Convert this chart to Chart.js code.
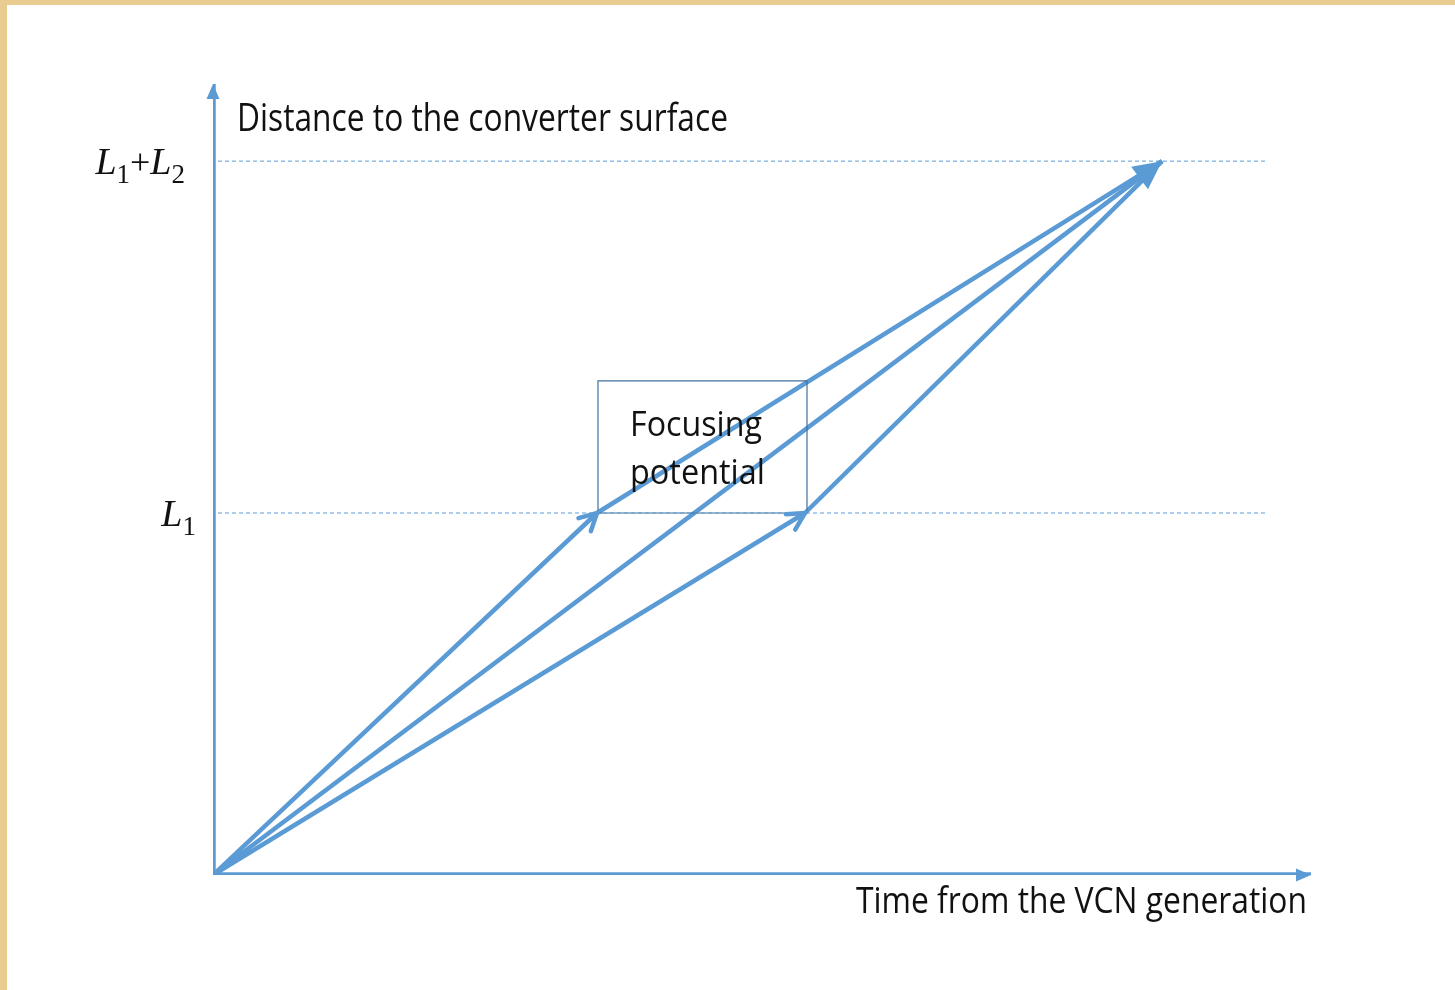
<!DOCTYPE html>
<html lang="en">
<head>
<meta charset="UTF-8">
<title>Focusing potential</title>
<style>
  html, body { margin:0; padding:0; }
  body { background:#e9cd90; width:1455px; height:990px; overflow:hidden; position:relative; }
  .sheet { position:absolute; left:7px; top:5px; right:0; bottom:0; background:#fff; }
  .wrap { position:absolute; left:0; top:0; width:1455px; height:990px; }
</style>
</head>
<body>
<div class="sheet"></div>
<div class="wrap"><canvas id="chart" width="1455" height="990"></canvas></div>

<script src="https://cdn.jsdelivr.net/npm/chart.js"></script>
<script>
// distances (L1 = 1 unit)
const yTickValues = [1.0, 1.972];
const yTickLabels = [["L", "1"], ["L", "1", "+L", "2"]];
// times
const entryTimes = [3.84, 5.92];      // arrival at L1 for early / late neutrons
const arrivalTime = 9.49;             // common arrival at L1+L2
const axisEnd = { x: 10.98, y: 2.185 };
const guideFrom = 0.05, guideTo = 10.55;
// focusing potential box
const boxX = [3.85, 5.94];
const boxY = [1.0, 1.365];

const blue = '#5b9bd5';
const L1 = yTickValues[0], L12 = yTickValues[1];

const seg = (a, b) => [{x:a[0], y:a[1]}, {x:b[0], y:b[1]}];

const datasets = [
  // axes
  { data: seg([0,0],[axisEnd.x,0]), borderColor: blue, borderWidth: 5.5, arrow: 'fill', head: [15, 6.5] },
  { data: seg([0,0],[0,axisEnd.y]), borderColor: blue, borderWidth: 5.5, arrow: 'fill', head: [15, 6.5] },
  // guides
  { data: seg([guideFrom,L1],[guideTo,L1]), borderColor: blue, borderWidth: 1, borderDash: [4,3] },
  { data: seg([guideFrom,L12],[guideTo,L12]), borderColor: blue, borderWidth: 1, borderDash: [4,3] },
  // box
  { data: [{x:boxX[0],y:boxY[0]},{x:boxX[1],y:boxY[0]},{x:boxX[1],y:boxY[1]},{x:boxX[0],y:boxY[1]},{x:boxX[0],y:boxY[0]}],
    borderColor: '#41719c', borderWidth: 1.2 },
  // early path
  { data: seg([0,0],[entryTimes[0],L1]), borderColor: blue, borderWidth: 4.5, arrow: 'open', head: [17, 9] },
  { data: seg([entryTimes[0],L1],[arrivalTime,L12]), borderColor: blue, borderWidth: 4.5 },
  // direct path
  { data: seg([0,0],[arrivalTime,L12]), borderColor: blue, borderWidth: 4.5, arrow: 'fill', head: [28, 14] },
  // late path
  { data: seg([0,0],[entryTimes[1],L1]), borderColor: blue, borderWidth: 4.5, arrow: 'open', head: [17, 9] },
  { data: seg([entryTimes[1],L1],[arrivalTime,L12]), borderColor: blue, borderWidth: 4.5 }
].map(d => Object.assign({ showLine: true, pointRadius: 0, fill: false, tension: 0, borderCapStyle: 'butt' }, d));

const texts = [
  { t: 'Distance to the converter surface', x: 0.24, y: 2.055, w: 491, size: 39 },
  { t: 'Time from the VCN generation', x: 6.43, y: -0.105, w: 451, size: 37 },
  { t: 'Focusing', x: 4.17, y: 1.213, w: 132, size: 35 },
  { t: 'potential', x: 4.17, y: 1.080, w: 135, size: 35 }
];

function fitText(ctx, t, x, y, w) {
  const m = ctx.measureText(t).width;
  ctx.save();
  ctx.translate(x, y);
  ctx.scale(w / m, 1);
  ctx.fillText(t, 0, 0);
  ctx.restore();
}

const decor = {
  id: 'decor',
  afterDatasetsDraw(chart) {
    const ctx = chart.ctx, xs = chart.scales.x, ys = chart.scales.y;
    // arrow heads
    chart.data.datasets.forEach(ds => {
      if (!ds.arrow) return;
      const a = ds.data[0], b = ds.data[ds.data.length - 1];
      const x0 = xs.getPixelForValue(a.x), y0 = ys.getPixelForValue(a.y);
      const x1 = xs.getPixelForValue(b.x), y1 = ys.getPixelForValue(b.y);
      const ang = Math.atan2(y1 - y0, x1 - x0);
      const [len, half] = ds.head;
      const bx = x1 - len * Math.cos(ang), by = y1 - len * Math.sin(ang);
      const px = -Math.sin(ang) * half, py = Math.cos(ang) * half;
      ctx.save();
      ctx.strokeStyle = ctx.fillStyle = ds.borderColor;
      if (ds.arrow === 'fill') {
        ctx.beginPath();
        ctx.moveTo(x1, y1);
        ctx.lineTo(bx + px, by + py);
        ctx.lineTo(bx - px, by - py);
        ctx.closePath();
        ctx.fill();
      } else {
        ctx.lineWidth = ds.borderWidth;
        ctx.lineCap = 'round';
        ctx.lineJoin = 'miter';
        ctx.beginPath();
        ctx.moveTo(bx + px, by + py);
        ctx.lineTo(x1, y1);
        ctx.lineTo(bx - px, by - py);
        ctx.stroke();
      }
      ctx.restore();
    });

    // texts
    ctx.save();
    ctx.fillStyle = '#111';
    ctx.textBaseline = 'alphabetic';
    texts.forEach(o => {
      ctx.font = o.size + 'px "Open Sans", "Noto Sans", sans-serif';
      fitText(ctx, o.t, xs.getPixelForValue(o.x), ys.getPixelForValue(o.y), o.w);
    });

    // y tick labels, italic L with subscripts, right aligned
    const rightEdge = [196, 185];
    yTickValues.forEach((v, i) => {
      const parts = yTickLabels[i];
      const base = ys.getPixelForValue(v) + 13;
      const big = 'italic 38px "Liberation Serif", "DejaVu Serif", serif';
      const upright = '36px "Liberation Serif", "DejaVu Serif", serif';
      const small = '27px "Liberation Serif", "DejaVu Serif", serif';
      const pieces = [];
      parts.forEach((p, k) => {
        if (k % 2 === 0) {
          if (p.startsWith('+')) {
            pieces.push({ s: '+', f: upright, dy: 0 });
            pieces.push({ s: p.slice(1), f: big, dy: 0 });
          } else pieces.push({ s: p, f: big, dy: 0 });
        } else pieces.push({ s: p, f: small, dy: 9 });
      });
      let total = 0;
      pieces.forEach(p => { ctx.font = p.f; p.w = ctx.measureText(p.s).width; total += p.w; });
      let x = rightEdge[i] - total;
      pieces.forEach(p => { ctx.font = p.f; ctx.fillText(p.s, x, base + p.dy); x += p.w; });
    });
    ctx.restore();
  }
};

new Chart(document.getElementById('chart'), {
  type: 'scatter',
  data: { datasets },
  options: {
    responsive: false,
    animation: false,
    layout: { padding: { left: 213, right: 142, top: 78.6, bottom: 115 } },
    plugins: { legend: { display: false }, tooltip: { enabled: false } },
    scales: {
      x: { type: 'linear', min: 0, max: 11, display: false },
      y: { type: 'linear', min: 0, max: 2.2, display: false }
    }
  },
  plugins: [decor]
});
</script>
</body>
</html>
